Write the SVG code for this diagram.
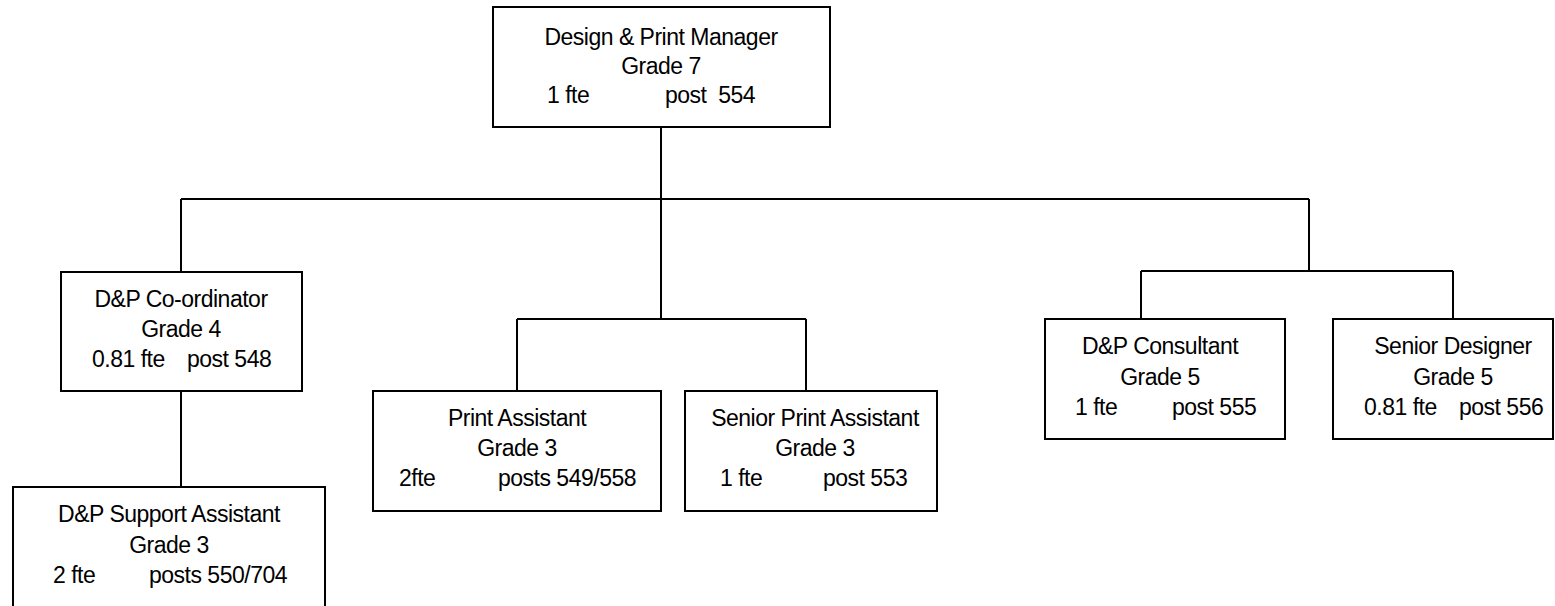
<svg xmlns="http://www.w3.org/2000/svg" width="1555" height="606" viewBox="0 0 1555 606">
<style>
.box{fill:#fff;stroke:#000;stroke-width:2}
.c{fill:none;stroke:#000;stroke-width:2}
text{font-family:"Liberation Sans",Arial,Helvetica,sans-serif;font-size:23px;letter-spacing:-0.5px;fill:#000}
.m{text-anchor:middle}
</style>
<rect width="1555" height="606" fill="#fff"/>
<g id="connectors">
<path class="c" d="M661 127V319M181 199H1309M181 199V272M181 391V487M517 319H806M517 319V391M806 319V391M1309 199V271M1141 271H1453M1141 271V319M1453 271V319"/>
</g>
<g id="n_manager">
<rect class="box" x="493" y="7" width="337" height="120"/>
<text class="m" x="661" y="45">Design &amp; Print Manager</text>
<text class="m" x="661" y="74">Grade 7</text>
<text x="547" y="103">1 fte</text>
<text x="665" y="103" xml:space="preserve">post  554</text>
</g>
<g id="n_coordinator">
<rect class="box" x="61" y="272" width="241" height="119"/>
<text class="m" x="181" y="307">D&amp;P Co-ordinator</text>
<text class="m" x="181" y="337">Grade 4</text>
<text x="92" y="367">0.81 fte</text>
<text x="187" y="367">post 548</text>
</g>
<g id="n_support">
<rect class="box" x="13" y="487" width="312" height="120"/>
<text class="m" x="169" y="522">D&amp;P Support Assistant</text>
<text class="m" x="169" y="553">Grade 3</text>
<text x="53" y="583">2 fte</text>
<text x="149" y="583">posts 550/704</text>
</g>
<g id="n_print_assistant">
<rect class="box" x="373" y="391" width="288" height="120"/>
<text class="m" x="517" y="426">Print Assistant</text>
<text class="m" x="517" y="456">Grade 3</text>
<text x="399" y="486">2fte</text>
<text x="498" y="486">posts 549/558</text>
</g>
<g id="n_senior_print_assistant">
<rect class="box" x="685" y="391" width="252" height="120"/>
<text class="m" x="815" y="426">Senior Print Assistant</text>
<text class="m" x="815" y="456">Grade 3</text>
<text x="720" y="486">1 fte</text>
<text x="823" y="486">post 553</text>
</g>
<g id="n_consultant">
<rect class="box" x="1045" y="319" width="240" height="120"/>
<text class="m" x="1160" y="354">D&amp;P Consultant</text>
<text class="m" x="1160" y="385">Grade 5</text>
<text x="1075" y="415">1 fte</text>
<text x="1172" y="415">post 555</text>
</g>
<g id="n_senior_designer">
<rect class="box" x="1333" y="319" width="220" height="120"/>
<text class="m" x="1453" y="354">Senior Designer</text>
<text class="m" x="1453" y="385">Grade 5</text>
<text x="1364" y="415">0.81 fte</text>
<text x="1459" y="415">post 556</text>
</g>
</svg>
